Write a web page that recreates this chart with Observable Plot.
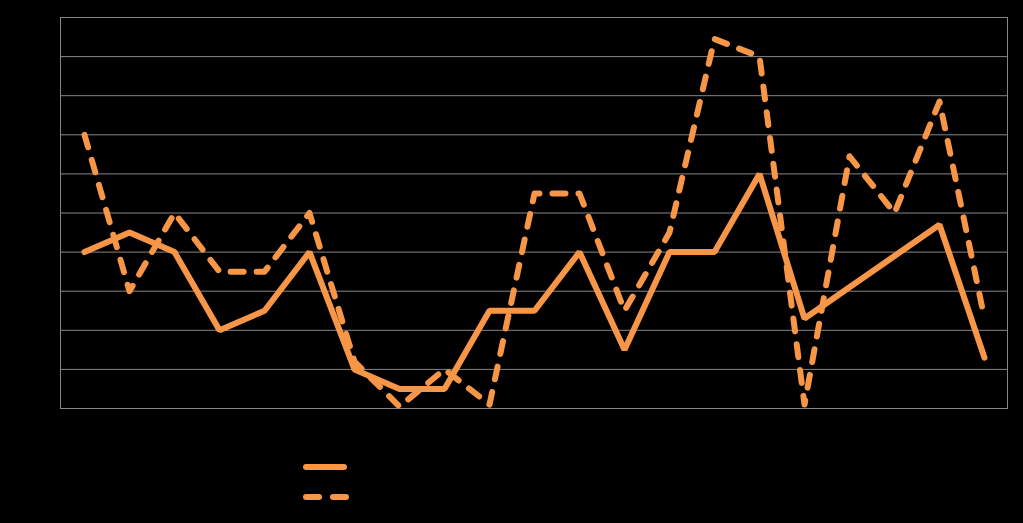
<!DOCTYPE html>
<html>
<head>
<meta charset="utf-8">
<script src="https://cdn.jsdelivr.net/npm/d3@7"></script>
<script src="https://cdn.jsdelivr.net/npm/@observablehq/plot@0.6"></script>
<style>
  html, body { margin: 0; padding: 0; background: #000; width: 1023px; height: 523px; overflow: hidden; }
  #chart { position: absolute; left: 0; top: 0; }
  #legend { position: absolute; left: 300px; top: 452px; }
</style>
</head>
<body>
<div id="chart"></div>
<div id="legend"></div>
<script>
const categories = d3.range(1, 22);
const solidValues  = [4.0, 4.5, 4.0, 2.0, 2.5, 4.0, 1.0, 0.5, 0.5, 2.5, 2.5, 4.0, 1.5, 4.0, 4.0, 6.0, 2.3, 3.1, 3.9, 4.7, 1.3];
const dashedValues = [7.0, 3.0, 5.0, 3.5, 3.5, 5.0, 1.2, 0.05, 1.0, 0.1, 5.5, 5.5, 2.5, 4.5, 9.45, 9.0, 0.1, 6.45, 5.0, 7.85, 2.3];
const yTicks = d3.range(0, 11);
const color = "#F79646";

const solid = categories.map((c, i) => ({cat: c, v: solidValues[i]}));
const dashed = categories.map((c, i) => ({cat: c, v: dashedValues[i]}));

const chart = Plot.plot({
  width: 1023,
  height: 430,
  marginLeft: 60,
  marginRight: 16,
  marginTop: 17,
  marginBottom: 22,
  style: {background: "#000"},
  x: {type: "point", domain: categories, padding: 0.5, axis: null},
  y: {domain: [0, 10], axis: null},
  marks: [
    Plot.ruleY(yTicks, {stroke: "#868686", strokeWidth: 1, strokeOpacity: 1}),
    Plot.frame({stroke: "#868686", strokeWidth: 1}),
    Plot.line(solid, {x: "cat", y: "v", stroke: color, strokeWidth: 6, strokeLinejoin: "miter", strokeLinecap: "round"}),
    Plot.line(dashed, {x: "cat", y: "v", stroke: color, strokeWidth: 6, strokeDasharray: "13,13", strokeLinejoin: "round", strokeLinecap: "round"})
  ]
});
document.getElementById("chart").appendChild(chart);

const leg = d3.select("#legend").append("svg").attr("width", 60).attr("height", 60);
leg.append("line").attr("x1", 6).attr("x2", 44).attr("y1", 15).attr("y2", 15)
  .attr("stroke", color).attr("stroke-width", 6).attr("stroke-linecap", "round");
leg.append("line").attr("x1", 6).attr("x2", 48).attr("y1", 45).attr("y2", 45)
  .attr("stroke", color).attr("stroke-width", 6).attr("stroke-linecap", "round")
  .attr("stroke-dasharray", "13,14");
</script>
</body>
</html>
